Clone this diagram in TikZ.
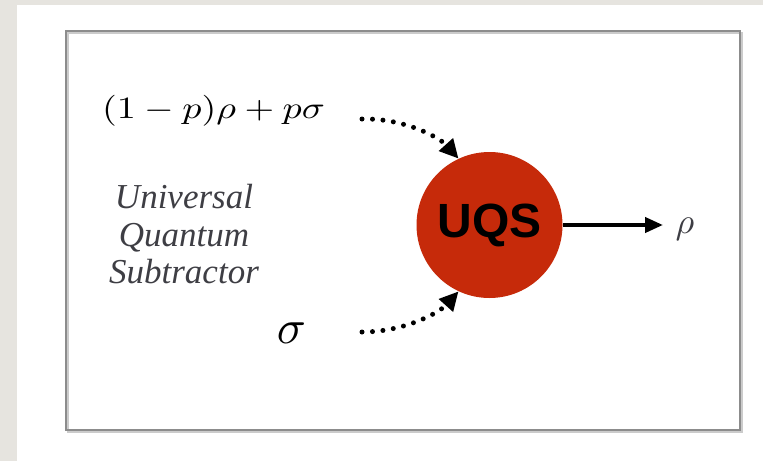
\documentclass[tikz,border=0pt]{standalone}
\usepackage{fontspec}
\usepackage{graphicx}
\setmainfont{Liberation Serif}
\newfontfamily\uqsfont{Liberation Sans}
\usetikzlibrary{arrows.meta}
\definecolor{bggray}{HTML}{E6E4DF}
\definecolor{boxgray}{HTML}{8C8C8C}
\definecolor{uqsred}{HTML}{C62A0A}
\definecolor{txtgray}{HTML}{3E3E44}
\tikzset{
  dotarrow/.style={line width=5pt, dash pattern=on 0pt off 10.5pt, line cap=round,
    -{Triangle[length=19pt,width=18pt]}},
  solidarrow/.style={line width=4pt, -{Triangle[length=18pt,width=15pt]}},
  sidelabel/.style={anchor=base, inner sep=0pt, text=txtgray,
    font=\fontsize{35}{37.5}\selectfont\itshape},
}
\begin{document}
\begin{tikzpicture}[x=1pt,y=-1pt]
\useasboundingbox (0,0) rectangle (763,461);
\fill[bggray] (0,0) rectangle (763,461);
\fill[white] (17,5) rectangle (763,461);
\draw[boxgray!45, line width=2pt] (67.5,32.5) rectangle (741.5,431.5);
\draw[boxgray, line width=2.5pt] (66,31) rectangle (740,430);

\node[circle, fill=uqsred, minimum size=146pt, inner sep=0pt,
      font=\uqsfont\bfseries\fontsize{48}{50}\selectfont] (uqs) at (489.5,225) {UQS};

\node[anchor=base, inner sep=0pt] (mix) at (213.5,118)
  {\scalebox{3.81}[3.1]{$(1-p)\rho+p\sigma$}};
\node[anchor=base, inner sep=0pt] (sig) at (291.5,343) {\scalebox{4.8}{$\sigma$}};
\node[anchor=base, inner sep=0pt, text=txtgray] (rho) at (685,233) {\scalebox{3.6}{$\rho$}};

\node[sidelabel] (l1) at (184,208) {Universal};
\node[sidelabel] (l2) at (184,246) {Quantum};
\node[sidelabel] (l3) at (184,283) {Subtractor};

\coordinate (s1) at (362,119);
\coordinate (s2) at (362,332);
\coordinate (tipout) at (663,225);

\draw[dotarrow] (s1) .. controls (405,118) and (440,138) .. (uqs.115);
\draw[dotarrow] (s2) .. controls (405,332) and (440,312) .. (uqs.245);
\draw[solidarrow] (uqs.east) -- (tipout);
\end{tikzpicture}
\end{document}
